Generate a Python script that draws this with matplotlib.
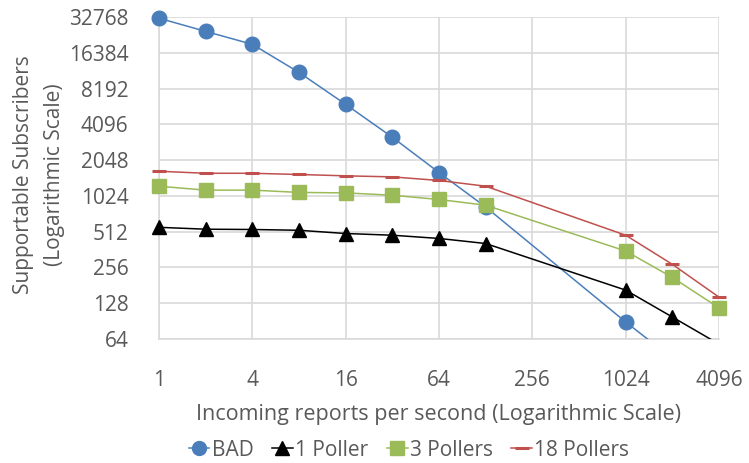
import matplotlib
matplotlib.use("Agg")
import matplotlib.pyplot as plt
from matplotlib.lines import Line2D

# Data
rates = [1, 2, 4, 8, 16, 32, 64, 128, 1024, 2048, 4096]
bad_rates = [1, 2, 4, 8, 16, 32, 64, 128, 1024, 2048]
bad = [32000, 24800, 19300, 11200, 6030, 3190, 1610, 826, 89, 44]
poller_1 = [557, 537, 534, 526, 494, 478, 449, 407, 165, 98, 58]
pollers_3 = [1235, 1145, 1145, 1095, 1085, 1037, 955, 855, 352, 211, 117]
pollers_18 = [1650, 1587, 1587, 1550, 1510, 1480, 1380, 1235, 478, 272, 144]

x_ticks = [1, 4, 16, 64, 256, 1024, 4096]
y_ticks = [64, 128, 256, 512, 1024, 2048, 4096, 8192, 16384, 32768]

plt.rcParams["font.family"] = ["Open Sans", "DejaVu Sans"]
text_color = "#595959"
grid_color = "#D9D9D9"

fig = plt.figure(figsize=(7.49, 4.63), dpi=100)
ax = fig.add_axes([159 / 749, 1 - 339 / 463, 560 / 749, 322 / 463])


def draw_series(xs, ys, color, marker, ms, z, **kw):
    # line is clipped to the axes, markers inside the range are not
    ax.plot(xs, ys, "-", color=color, lw=1.1, zorder=z)
    pts = [(x, y) for x, y in zip(xs, ys) if y >= 64]
    ax.plot([p[0] for p in pts], [p[1] for p in pts], linestyle="none",
            marker=marker, color=color, ms=ms, clip_on=False, zorder=z, **kw)


draw_series(bad_rates, bad, "#4A7EBB", "o", 10.5, 3)
draw_series(rates, poller_1, "black", "^", 10, 4)
draw_series(rates, pollers_3, "#9BBB59", "s", 10, 5)
draw_series(rates, pollers_18, "#C0504D", "_", 10, 6, mew=2.2)

ax.set_xscale("log", base=2)
ax.set_yscale("log", base=2)
ax.set_xlim(1, 4096)
ax.set_ylim(64, 32768)

ax.set_xticks(x_ticks)
ax.set_xticklabels([str(v) for v in x_ticks])
ax.set_yticks(y_ticks)
ax.set_yticklabels([str(v) for v in y_ticks])
ax.minorticks_off()
ax.tick_params(axis="both", length=0, labelsize=15, colors=text_color)
ax.tick_params(axis="x", pad=22)
ax.tick_params(axis="y", pad=22)

ax.grid(True, color=grid_color, lw=1.2)
ax.set_axisbelow(True)
for side in ["top", "right"]:
    ax.spines[side].set_visible(False)
for side in ["left", "bottom"]:
    ax.spines[side].set_color(grid_color)
    ax.spines[side].set_linewidth(1.2)

ax.set_xlabel("Incoming reports per second (Logarithmic Scale)",
              fontsize=15.5, color=text_color, labelpad=10)
fig.text(39 / 749, 1 - 175 / 463, "Supportable Subscribers\n(Logarithmic Scale)",
         rotation=90, ha="center", va="center", multialignment="center",
         fontsize=15, color=text_color, linespacing=1.6)

handles = [
    Line2D([], [], color="#4A7EBB", marker="o", ms=10, lw=1.1),
    Line2D([], [], color="black", marker="^", ms=10, lw=1.1),
    Line2D([], [], color="#9BBB59", marker="s", ms=10, lw=1.1),
    Line2D([], [], color="#C0504D", marker="_", ms=10, mew=2.2, lw=1.1),
]
fig.legend(handles, ["BAD", "1 Poller", "3 Pollers", "18 Pollers"],
           loc="center", bbox_to_anchor=(409 / 749, 1 - 450 / 463),
           ncol=4, frameon=False, fontsize=15, labelcolor=text_color,
           handlelength=1.0, handletextpad=0.1, columnspacing=0.9)

fig.savefig("out.png", dpi=100)
